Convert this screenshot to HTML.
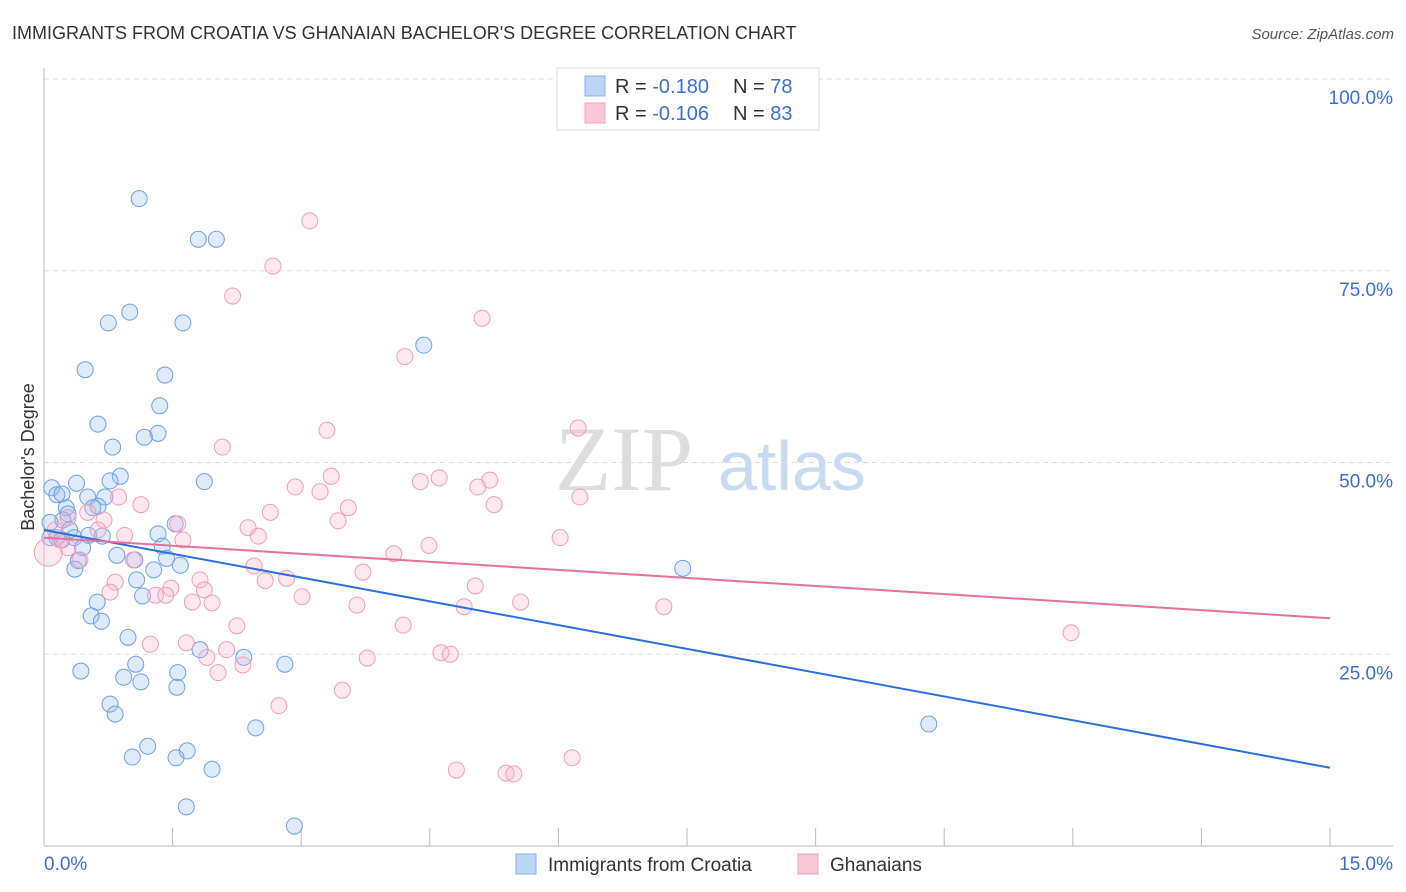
<!DOCTYPE html>
<html><head><meta charset="utf-8"><style>
body{margin:0;background:#fff;font-family:"Liberation Sans",sans-serif;}
svg{display:block}
</style></head><body>
<svg id="chart" width="1406" height="892">
<text x="12" y="39" font-size="18" fill="#333">IMMIGRANTS FROM CROATIA VS GHANAIAN BACHELOR'S DEGREE CORRELATION CHART</text>
<text x="1394" y="39" font-size="15" fill="#555" font-style="italic" text-anchor="end">Source: ZipAtlas.com</text>
<text x="0" y="0" transform="translate(34,457) rotate(-90)" font-size="18" fill="#333" text-anchor="middle">Bachelor's Degree</text>
<g><text x="555" y="490" font-size="92" font-family="Liberation Serif,serif" fill="#ddd">ZIP</text><text x="718" y="490" font-size="70" fill="#c8daf2">atlas</text></g>
<g id="grid"></g><g id="axes"></g><g id="pts"></g><g id="lines"></g>
<g>
<rect x="557" y="68" width="262" height="62" fill="#fff" stroke="#ddd"/>
<rect x="585" y="76" width="20" height="20" fill="#bcd5f5" stroke="#8ab0e6"/>
<rect x="585" y="103" width="20" height="20" fill="#fcc8d8" stroke="#f0a0bc"/>
<text x="615" y="93" font-size="20" fill="#333">R = <tspan fill="#3a6fd0">-0.180</tspan><tspan x="733">N = </tspan><tspan fill="#3a6fd0">78</tspan></text>
<text x="615" y="120" font-size="20" fill="#333">R = <tspan fill="#3a6fd0">-0.106</tspan><tspan x="733">N = </tspan><tspan fill="#3a6fd0">83</tspan></text>
</g>
<g>
<rect x="516" y="854" width="20" height="20" fill="#bcd5f5" stroke="#8ab0e6"/>
<text x="548" y="871" font-size="19" fill="#333">Immigrants from Croatia</text>
<rect x="798" y="854" width="20" height="20" fill="#fcc8d8" stroke="#f0a0bc"/>
<text x="830" y="871" font-size="19" fill="#333">Ghanaians</text>
</g>
</svg>
<script>
const xTickVals=[0,1.5,3,4.5,6,7.5,9,10.5,12,13.5,15];
const yTickVals=[25,50,75,100];
const yTickLabels=["25.0%","50.0%","75.0%","100.0%"];
const croatiaX=[1.11,1.80,2.01,1.00,0.75,1.62,4.43,0.48,1.41,1.35,0.63,1.33,1.17,0.80,0.89,0.77,1.87,0.38,0.09,0.15,0.21,0.51,0.71,0.26,0.63,0.57,0.28,0.22,0.07,0.30,0.52,0.07,0.15,0.21,0.35,0.68,1.33,1.53,0.45,1.38,0.85,0.40,1.06,1.43,0.36,1.28,1.59,7.45,1.08,1.15,0.62,0.55,0.67,0.98,1.82,2.33,2.81,1.07,0.43,1.56,0.93,1.13,1.55,0.77,0.83,2.47,10.32,1.21,1.03,1.54,1.67,1.96,1.66,2.92];
const croatiaY=[84.4,79.1,79.1,69.6,68.2,68.2,65.3,62.1,61.4,57.4,55.0,53.8,53.3,52.0,48.2,47.6,47.5,47.3,46.7,45.8,45.9,45.5,45.5,44.1,44.3,44.1,43.3,42.5,42.2,41.2,40.5,40.2,40.2,39.9,40.2,40.4,40.7,42.0,38.9,39.1,37.9,37.2,37.3,37.5,36.1,36.0,36.6,36.2,34.7,32.6,31.8,30.0,29.3,27.2,25.6,24.6,23.7,23.7,22.8,22.6,22.0,21.4,20.7,18.5,17.2,15.4,15.9,13.0,11.6,11.5,12.4,10.0,5.1,2.6];
const ghanaX=[3.10,2.67,2.20,5.11,4.21,3.30,6.23,2.08,3.35,4.61,4.39,5.20,5.06,2.93,3.22,6.25,0.87,1.13,5.25,3.55,2.64,0.51,0.70,0.28,3.43,1.56,2.38,0.63,0.13,0.94,2.50,1.62,6.02,0.19,0.28,0.05,4.49,4.08,1.04,0.42,2.45,3.72,2.83,1.82,2.58,0.83,5.03,1.48,1.87,0.77,1.30,1.42,3.01,1.73,1.96,5.56,3.65,4.90,7.23,2.25,4.19,11.98,1.24,1.66,2.13,4.63,4.74,1.90,3.77,2.32,2.03,3.48,2.74,4.81,5.39,5.48,6.16];
const ghanaY=[81.5,75.6,71.7,68.8,63.8,54.2,54.5,52.0,48.2,48.0,47.5,47.7,46.8,46.8,46.2,45.5,45.5,44.5,44.5,44.1,43.5,43.5,42.5,42.8,42.4,42.0,41.5,41.2,41.2,40.5,40.4,39.9,40.2,39.9,38.9,38.3,39.2,38.1,37.3,37.3,36.5,35.7,34.9,34.7,34.6,34.4,33.9,33.6,33.4,33.1,32.7,32.7,32.5,31.8,31.7,31.8,31.4,31.2,31.2,28.7,28.8,27.8,26.3,26.5,25.6,25.2,25.0,24.6,24.5,23.6,22.6,20.3,18.3,9.9,9.5,9.4,11.5];
const croatiaTrend=[41.2,10.2];
const ghanaTrend=[40.2,29.7];
const NS="http://www.w3.org/2000/svg";
const X=v=>44+v*(1330-44)/15;
const Y=v=>846-v*(846-79)/100;
function mk(t,a,p){const e=document.createElementNS(NS,t);for(const k in a)e.setAttribute(k,a[k]);p.appendChild(e);return e;}
const grid=document.getElementById('grid'),axes=document.getElementById('axes'),pts=document.getElementById('pts'),lines=document.getElementById('lines');
yTickVals.forEach((v,i)=>{
 const l=mk('line',{x1:44,x2:1393,y1:Y(v),y2:Y(v),stroke:'#ddd','stroke-dasharray':'5,4'},grid);
 
 
 const t=mk('text',{x:1393,y:Y(v)+25,'font-size':19,fill:'#3a6fd0','text-anchor':'end'},axes);
 t.textContent=yTickLabels[i];
 
 
});
const ax=mk('line',{x1:44,x2:44,y1:68,y2:846,stroke:'#bbb'},axes);


const bx=mk('line',{x1:44,x2:1393,y1:846,y2:846,stroke:'#bbb'},axes);


xTickVals.forEach(v=>{
 const t=mk('line',{x1:X(v),x2:X(v),y1:828,y2:846,stroke:'#bbb'},axes);
 
 
});
const x0=mk('text',{x:44,y:870,'font-size':19,fill:'#3a6fd0'},axes);x0.textContent='0.0%';


const x1=mk('text',{x:1393,y:870,'font-size':19,fill:'#3a6fd0','text-anchor':'end'},axes);x1.textContent='15.0%';


croatiaX.forEach((v,i)=>{
 const c=mk('circle',{cx:X(v),cy:Y(croatiaY[i]),r:8,fill:'rgba(150,190,240,0.3)',stroke:'#6d9fe3','stroke-width':1},pts);
 
 
});
ghanaX.forEach((v,i)=>{
 const c=mk('circle',{cx:X(v),cy:Y(ghanaY[i]),r:i===35?14:8,fill:'rgba(250,180,205,0.3)',stroke:'#ef9dbb','stroke-width':1},pts);
 
 
});
const lb=mk('line',{x1:X(0),x2:X(15),y1:Y(croatiaTrend[0]),y2:Y(croatiaTrend[1]),stroke:'#2a6fdc','stroke-width':2},lines);


const lp=mk('line',{x1:X(0),x2:X(15),y1:Y(ghanaTrend[0]),y2:Y(ghanaTrend[1]),stroke:'#e5709a','stroke-width':2},lines);


</script>
</body></html>
